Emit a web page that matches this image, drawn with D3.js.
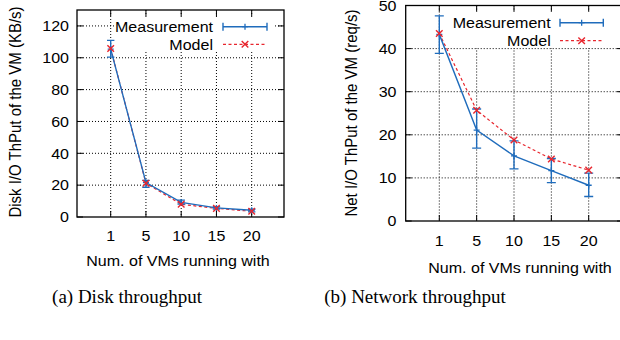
<!DOCTYPE html>
<html>
<head>
<meta charset="utf-8">
<script src="https://cdn.jsdelivr.net/npm/d3@7"></script>
<style>
  body { margin: 0; background: #fff; }
</style>
</head>
<body>
<div id="draw"></div>
<script>
// x categories (number of co-located VMs)
let vms = ['1', '5', '10', '15', '20'];

// (a) disk throughput, KB/s
let diskMeas = [105.4, 21.6, 9.2, 5.7, 4.2];
let diskLo = [100.4, 18.7, 8.2, 5.0, 3.2];
let diskHi = [110.9, 23.0, 10.6, 6.5, 4.9];
let diskModel = [105.8, 21.2, 8.0, 5.4, 3.6];
let diskTicks = [0, 20, 40, 60, 80, 100, 120];

// (b) network throughput, req/s
let netMeas = [43.3, 21.1, 15.1, 11.7, 8.3];
let netLo = [38.9, 16.9, 12.1, 8.9, 5.7];
let netHi = [47.6, 26.0, 18.6, 14.5, 11.1];
let netModel = [43.5, 25.7, 18.8, 14.4, 11.8];
let netTicks = [0, 10, 20, 30, 40, 50];

let legendNames = ['Measurement', 'Model'];
let captions = ['(a) Disk throughput', '(b) Network throughput'];

let W = 620, H = 340;
let SX = 1.07;      // the figure was stretched horizontally a bit
let FS = 15;
let SANS = '"Liberation Sans", Arial, sans-serif';
let SERIF = '"Liberation Serif", "Times New Roman", serif';
let BLUE = '#1f6cbc', RED = '#e8262e';

let svg = d3.select('#draw').append('svg').attr('width', W).attr('height', H);

// text stretched horizontally like the original figure
let stext = function(g, x, y, str, anchor, rot) {
  return g.append('text')
    .attr('transform', 'translate(' + x + ',' + y + ') scale(' + SX + ',1)' + (rot ? ' rotate(-90)' : ''))
    .attr('text-anchor', anchor)
    .attr('dy', '0.35em')
    .style('font-family', SANS)
    .attr('font-size', FS)
    .attr('fill', '#000')
    .text(str);
}

let plus = function(g, x, y, s, col) {
  g.append('path').attr('d', 'M' + (x - s) + ',' + y + 'H' + (x + s) + 'M' + x + ',' + (y - s) + 'V' + (y + s))
    .attr('stroke', col).attr('stroke-width', 1.3).attr('fill', 'none');
}
let cross = function(g, x, y, s, col) {
  g.append('path').attr('d', 'M' + (x - s) + ',' + (y - s) + 'L' + (x + s) + ',' + (y + s) + 'M' + (x - s) + ',' + (y + s) + 'L' + (x + s) + ',' + (y - s))
    .attr('stroke', col).attr('stroke-width', 1.4).attr('fill', 'none');
}

let drawPanel = function(p) {
  let g = svg.append('g');
  let x = d3.scaleLinear().domain([0, 4]).range([p.x1, p.x5]);
  let y = d3.scaleLinear().domain([0, p.ymax]).range([p.bottom, p.top]);

  // grid
  g.selectAll('line.gy').data(p.ticks.filter(d => d > 0 && d < p.ymax)).enter().append('line')
    .attr('x1', p.left).attr('x2', p.right).attr('y1', d => y(d)).attr('y2', d => y(d))
    .attr('stroke', '#000').attr('stroke-width', 1).attr('stroke-dasharray', '1,2');
  g.selectAll('line.gx').data(vms).enter().append('line')
    .attr('x1', (d, i) => x(i)).attr('x2', (d, i) => x(i)).attr('y1', p.top).attr('y2', p.bottom)
    .attr('stroke', '#000').attr('stroke-width', 1).attr('stroke-dasharray', '1,2');

  // ticks on all four sides, pointing in
  let tl = 6;
  p.ticks.forEach(function(d) {
    g.append('line').attr('x1', p.left).attr('x2', p.left + tl).attr('y1', y(d)).attr('y2', y(d)).attr('stroke', '#000');
    g.append('line').attr('x1', p.right).attr('x2', p.right - tl).attr('y1', y(d)).attr('y2', y(d)).attr('stroke', '#000');
    stext(g, p.ylabX, y(d), d, 'end');
  });
  vms.forEach(function(d, i) {
    g.append('line').attr('x1', x(i)).attr('x2', x(i)).attr('y1', p.bottom).attr('y2', p.bottom - tl).attr('stroke', '#000');
    g.append('line').attr('x1', x(i)).attr('x2', x(i)).attr('y1', p.top).attr('y2', p.top + tl).attr('stroke', '#000');
    stext(g, x(i), p.xlabY, d, 'middle');
  });

  // legend box (opaque)
  g.append('rect').attr('x', p.lgx0).attr('y', p.lgy0).attr('width', p.lgx1 - p.lgx0).attr('height', p.lgy1 - p.lgy0)
    .attr('fill', '#fff');

  // frame
  g.append('rect').attr('x', p.left).attr('y', p.top).attr('width', p.right - p.left).attr('height', p.bottom - p.top)
    .attr('fill', 'none').attr('stroke', '#000').attr('stroke-width', 1.3);

  // model
  let line = d3.line().x((d, i) => x(i)).y(d => y(d));
  g.append('path').datum(p.model).attr('d', line).attr('fill', 'none')
    .attr('stroke', RED).attr('stroke-width', 1.2).attr('stroke-dasharray', '3,2.5');

  // measurement with error bars
  g.append('path').datum(p.meas).attr('d', line).attr('fill', 'none')
    .attr('stroke', BLUE).attr('stroke-width', 1.4);
  let cw = p.cap;
  p.meas.forEach(function(d, i) {
    let cx = x(i);
    g.append('path')
      .attr('d', 'M' + cx + ',' + y(p.lo[i]) + 'V' + y(p.hi[i]) +
        'M' + (cx - cw) + ',' + y(p.lo[i]) + 'H' + (cx + cw) +
        'M' + (cx - cw) + ',' + y(p.hi[i]) + 'H' + (cx + cw))
      .attr('stroke', BLUE).attr('stroke-width', 1.4).attr('fill', 'none');
    plus(g, cx, y(d), 3, BLUE);
  });
  p.model.forEach(function(d, i) { cross(g, x(i), y(d), 3.3, RED); });

  // legend
  stext(g, p.lgText, p.lgY1, legendNames[0], 'end');
  stext(g, p.lgText, p.lgY2, legendNames[1], 'end');
  let a = p.lgS0, b = p.lgS1, m = (a + b) / 2;
  g.append('path').attr('d', 'M' + a + ',' + p.lgY1 + 'H' + b + 'M' + a + ',' + (p.lgY1 - 4) + 'V' + (p.lgY1 + 4) + 'M' + b + ',' + (p.lgY1 - 4) + 'V' + (p.lgY1 + 4))
    .attr('stroke', BLUE).attr('stroke-width', 1.4).attr('fill', 'none');
  plus(g, m, p.lgY1, 3, BLUE);
  g.append('line').attr('x1', a).attr('x2', b).attr('y1', p.lgY2).attr('y2', p.lgY2)
    .attr('stroke', RED).attr('stroke-width', 1.2).attr('stroke-dasharray', '3,2.5');
  cross(g, m, p.lgY2, 3.3, RED);

  // axis titles
  stext(g, p.xtX, p.xtY, 'Num. of VMs running with', 'middle');
  stext(g, p.ytX, p.ytY, p.ytitle, 'middle', true);

  // caption
  svg.append('text').attr('x', p.capX).attr('y', 303).attr('text-anchor', 'middle')
    .style('font-family', SERIF).attr('font-size', 19)
    .text(p.caption);
}

drawPanel({
  left: 77, right: 284, top: 10, bottom: 217, x1: 110.7, x5: 251.7, ymax: 130,
  ticks: diskTicks, meas: diskMeas, lo: diskLo, hi: diskHi, model: diskModel, cap: 3.7,
  ylabX: 69, xlabY: 235.5,
  lgx0: 115, lgx1: 275, lgy0: 18, lgy1: 52, lgText: 213, lgY1: 26.7, lgY2: 44.3, lgS0: 223, lgS1: 267,
  xtX: 178, xtY: 261, ytX: 15, ytY: 112, ytitle: 'Disk I/O ThPut of the VM (KB/s)',
  capX: 127, caption: captions[0]
});

drawPanel({
  left: 405.7, right: 623, top: 5.5, bottom: 221, x1: 439.3, x5: 588.7, ymax: 50,
  ticks: netTicks, meas: netMeas, lo: netLo, hi: netHi, model: netModel, cap: 4.5,
  ylabX: 396.5, xlabY: 240.5,
  lgx0: 450, lgx1: 612, lgy0: 12, lgy1: 48, lgText: 550.7, lgY1: 22.7, lgY2: 40.7, lgS0: 560, lgS1: 603.3,
  xtX: 520, xtY: 268, ytX: 351.7, ytY: 113, ytitle: 'Net I/O ThPut of the VM (req/s)',
  capX: 415, caption: captions[1]
});
</script>
</body>
</html>
